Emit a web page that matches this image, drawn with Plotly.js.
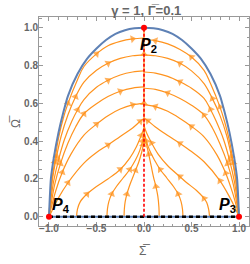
<!DOCTYPE html>
<html><head><meta charset="utf-8">
<script src="https://cdn.plot.ly/plotly-3.0.1.min.js"></script>
<style>body{margin:0;background:#fff}</style></head>
<body><div id="g" style="width:250px;height:264px"></div>
<script>
// Boundary (blue)
const boundarySigma = [-1,-0.98,-0.95,-0.9,-0.85,-0.8,-0.7,-0.6,-0.5,-0.4,-0.3,-0.2,-0.1,0,0.1,0.2,0.3,0.4,0.5,0.6,0.7,0.8,0.85,0.9,0.95,0.98,1];
const boundaryOmega = [0,0.2,0.31,0.445,0.55,0.64,0.755,0.835,0.89,0.935,0.968,0.987,0.997,1,0.997,0.987,0.968,0.935,0.89,0.835,0.755,0.64,0.55,0.445,0.31,0.2,0];

// Left trajectories (from P4 toward the centre line)
const l1S = [-1,-0.99,-0.97,-0.94,-0.9,-0.85,-0.8,-0.7,-0.632,-0.5,-0.379,-0.25,-0.12,0];
const l1O = [0,0.08,0.19,0.29,0.415,0.52,0.6,0.725,0.795,0.862,0.905,0.928,0.941,0.946];
const l2S = [-1,-0.985,-0.96,-0.92,-0.87,-0.8,-0.72,-0.632,-0.5,-0.379,-0.25,-0.12,0];
const l2O = [0,0.1,0.21,0.32,0.43,0.54,0.635,0.712,0.775,0.812,0.838,0.852,0.857];
const l3S = [-1,-0.98,-0.95,-0.9,-0.84,-0.76,-0.7,-0.632,-0.5,-0.379,-0.25,-0.12,0];
const l3O = [0,0.09,0.19,0.3,0.405,0.505,0.565,0.62,0.685,0.722,0.75,0.766,0.772];
const l4S = [-1,-0.975,-0.94,-0.88,-0.8,-0.72,-0.632,-0.5,-0.379,-0.25,-0.12,0];
const l4O = [0,0.075,0.17,0.28,0.39,0.475,0.545,0.598,0.636,0.664,0.681,0.687];
const l5S = [-1,-0.97,-0.93,-0.86,-0.77,-0.632,-0.5,-0.379,-0.25,-0.12,0];
const l5O = [0,0.06,0.135,0.235,0.33,0.432,0.49,0.535,0.57,0.592,0.6];
const l6S = [-1,-0.96,-0.9,-0.8,-0.632,-0.5,-0.379,-0.25,-0.12,-0.04,0];
const l6O = [0,0.04,0.1,0.18,0.284,0.34,0.38,0.425,0.47,0.505,0.52];
// Left trajectories starting on the Omega = 0 line
const lb1S = [-0.71,-0.70,-0.67,-0.6,-0.5,-0.38,-0.25,-0.15,-0.08,-0.03,0];
const lb1O = [0,0.04,0.08,0.12,0.16,0.2,0.25,0.31,0.37,0.43,0.47];
const lb2S = [-0.39,-0.385,-0.37,-0.34,-0.29,-0.22,-0.15,-0.09,-0.045,-0.015,0];
const lb2O = [0,0.04,0.08,0.12,0.16,0.205,0.25,0.3,0.35,0.4,0.43];
const lb3S = [-0.21,-0.207,-0.198,-0.18,-0.155,-0.125,-0.09,-0.055,-0.025,-0.007,0];
const lb3O = [0,0.04,0.08,0.12,0.16,0.2,0.245,0.29,0.34,0.38,0.40];

// Right trajectories (from P3 toward the centre line)
const r1S = [1,0.99,0.97,0.94,0.9,0.85,0.8,0.7,0.632,0.5,0.379,0.25,0.12,0];
const r1O = [0,0.08,0.19,0.285,0.4,0.5,0.58,0.705,0.775,0.845,0.885,0.915,0.932,0.938];
const r2S = [1,0.985,0.96,0.92,0.87,0.8,0.72,0.632,0.5,0.379,0.25,0.12,0];
const r2O = [0,0.1,0.21,0.32,0.43,0.535,0.625,0.705,0.772,0.812,0.838,0.852,0.857];
const r3S = [1,0.98,0.95,0.9,0.84,0.76,0.7,0.632,0.5,0.379,0.25,0.12,0];
const r3O = [0,0.09,0.19,0.3,0.405,0.505,0.568,0.626,0.68,0.714,0.743,0.76,0.766];
const r4S = [1,0.975,0.94,0.88,0.8,0.72,0.632,0.5,0.379,0.25,0.12,0];
const r4O = [0,0.075,0.17,0.28,0.385,0.47,0.538,0.59,0.626,0.655,0.674,0.68];
const r5S = [1,0.97,0.93,0.86,0.77,0.632,0.5,0.379,0.25,0.12,0];
const r5O = [0,0.06,0.13,0.23,0.325,0.423,0.478,0.52,0.558,0.583,0.592];
const r6S = [1,0.96,0.9,0.8,0.632,0.5,0.379,0.25,0.12,0.04,0];
const r6O = [0,0.045,0.105,0.19,0.291,0.345,0.388,0.43,0.475,0.508,0.522];
const rb1S = [0.69,0.68,0.66,0.632,0.55,0.45,0.379,0.25,0.15,0.08,0.03,0];
const rb1O = [0,0.04,0.075,0.097,0.14,0.18,0.212,0.27,0.33,0.39,0.44,0.48];
const rb2S = [0.41,0.405,0.39,0.36,0.31,0.24,0.17,0.11,0.06,0.025,0];
const rb2O = [0,0.04,0.08,0.12,0.16,0.205,0.25,0.3,0.35,0.4,0.45];
const rb3S = [0.16,0.157,0.145,0.125,0.1,0.075,0.05,0.028,0.01,0];
const rb3O = [0,0.05,0.11,0.16,0.21,0.27,0.33,0.38,0.42,0.44];

// Centre invariant line
const centreS = [0,0,0,0,0,0,0,0,0];
const centreO = [0.38,0.45,0.52,0.6,0.69,0.77,0.86,0.95,1];

// Critical points
const pointS = [0,1,-1];
const pointO = [1,0,0];
const pointLabels = ['2','3','4'];
const labelS = [0.045,0.875,-0.875];
const labelO = [0.905,0.062,0.062];

const ORANGE = '#FF931E';
const BLUE = '#5E81B5';
const FONT = 'Liberation Sans, Arial, sans-serif';

const curves = [[l1S,l1O],[l2S,l2O],[l3S,l3O],[l4S,l4O],[l5S,l5O],[l6S,l6O],
  [lb1S,lb1O],[lb2S,lb2O],[lb3S,lb3O],
  [r1S,r1O],[r2S,r2O],[r3S,r3O],[r4S,r4O],[r5S,r5O],[r6S,r6O],
  [rb1S,rb1O],[rb2S,rb2O],[rb3S,rb3O],[centreS,centreO]];

const traces = [];
curves.forEach(([s,o]) => {
  const n = s.length;
  const sizes = s.map((_,i) => (i>=3 && i%3===0 && i<n-1) ? 7 : 0);
  traces.push({x:s, y:o, type:'scatter', mode:'lines+markers',
    line:{color:ORANGE, width:1.2, shape:'spline', smoothing:1},
    marker:{symbol:'triangle-up', size:sizes, color:ORANGE, angleref:'previous', line:{width:0}},
    hoverinfo:'skip', showlegend:false});
});
traces.push({x:boundarySigma, y:boundaryOmega, type:'scatter', mode:'lines',
  line:{color:BLUE, width:2, shape:'spline', smoothing:0.6}, showlegend:false});
traces.push({x:[-1,1], y:[0,0], type:'scatter', mode:'lines', line:{color:BLUE, width:2}, showlegend:false});
traces.push({x:[-1,1], y:[0,0], type:'scatter', mode:'lines', line:{color:'#000', width:2.5, dash:'4px,3px'}, showlegend:false});
traces.push({x:[0,0], y:[0,1], type:'scatter', mode:'lines', line:{color:'#FF0000', width:1.6, dash:'3px,2px'}, showlegend:false});
traces.push({x:pointS, y:pointO, type:'scatter', mode:'markers', marker:{color:'#FF0000', size:6}, showlegend:false});

const annotations = pointLabels.map((t,i) => ({
  x:labelS[i], y:labelO[i], xref:'x', yref:'y', showarrow:false,
  text:'<b><i>P</i><sub>'+t+'</sub></b>', xanchor:'center', yanchor:'middle',
  font:{family:FONT, size:16, color:'#000'}
}));
annotations.push({x:0, y:-0.165, xref:'x', yref:'paper', showarrow:false,
  text:'\u03A3\u0305', font:{family:FONT, size:12, color:'#666'}});
annotations.push({x:-0.155, y:0.5, xref:'paper', yref:'paper', showarrow:false, textangle:-90,
  text:'\u03A9\u0305', font:{family:FONT, size:12, color:'#666'}});

const axisCommon = {showgrid:false, zeroline:false, showline:true, linecolor:'#999', linewidth:1,
  mirror:'allticks', ticks:'inside', ticklen:4, tickcolor:'#999', tickwidth:1,
  tickfont:{family:FONT, size:10, color:'#666', weight:'bold'},
  tickformat:'.1f', fixedrange:true};

const layout = {
  width:250, height:264,
  margin:{l:39, r:1, t:17, b:38},
  paper_bgcolor:'#fff', plot_bgcolor:'#fff',
  title:{text:'<b>\u03B3 = 1, \u0393\u0305=0.1</b>', x:0.585, xanchor:'center', y:0.962, yanchor:'middle',
    font:{family:FONT, size:13, color:'#666'}},
  xaxis:Object.assign({}, axisCommon, {range:[-1.105,1.105], dtick:0.5, tick0:0, ticklabelstandoff:-7,
    minor:{dtick:0.1, ticks:'inside', ticklen:2.5, tickcolor:'#999'}}),
  yaxis:Object.assign({}, axisCommon, {range:[-0.049,1.057], dtick:0.2, tick0:0, ticklabelstandoff:-2,
    minor:{dtick:0.05, ticks:'inside', ticklen:2.5, tickcolor:'#999'}}),
  annotations:annotations,
  showlegend:false
};
Plotly.newPlot('g', traces, layout, {staticPlot:true, displayModeBar:false});
</script></body></html>
